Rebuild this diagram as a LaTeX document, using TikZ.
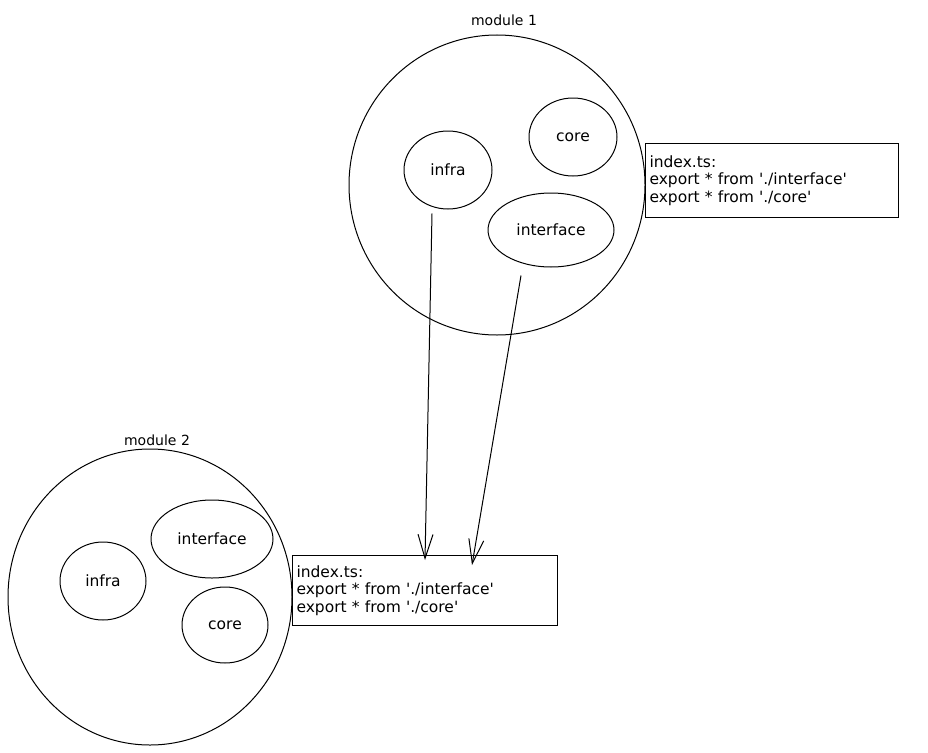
\documentclass[tikz,border=0pt]{standalone}
\usepackage{fontspec}
\setmainfont{DejaVu Sans}[Ligatures=TeXOff]
\usetikzlibrary{shapes.geometric,arrows.meta}
\tikzset{
  x=1pt,y=-1pt,
  every node/.style={font=\fontsize{14}{17.5}\selectfont},
  module/.style={draw,ellipse,line width=1pt,inner sep=0pt},
  part/.style={draw,ellipse,line width=1pt,inner sep=0pt,font=\fontsize{15.5}{17.5}\selectfont},
  codebox/.style={draw,line width=1pt,anchor=north west,align=left,inner sep=4pt,font=\fontsize{15.5}{17.5}\selectfont},
  dep/.style={draw,line width=1pt,-{Straight Barb[length=24pt,width=15pt,line width=1pt]}}
}
\begin{document}
\begin{tikzpicture}
\useasboundingbox (0,0) rectangle (928,752);
% module 1
\node[module,minimum width=296,minimum height=300] (m1) at (497,185) {};
\node (m1label) at (504,20) {module 1};
\node[part,minimum width=88,minimum height=78] (core1) at (573,137) {core};
\node[part,minimum width=88,minimum height=78] (infra1) at (448,170) {infra};
\node[part,minimum width=126,minimum height=74] (iface1) at (551,230) {interface};
\node[codebox,minimum width=253,minimum height=74,text width=245] (box1) at (645,143)
  {index.ts:\\export * from './interface'\\export * from './core'};
% module 2
\node[module,minimum width=284,minimum height=296] (m2) at (150,597) {};
\node (m2label) at (157,440) {module 2};
\node[part,minimum width=122,minimum height=78] (iface2) at (212,539) {interface};
\node[part,minimum width=86,minimum height=78] (infra2) at (103,581) {infra};
\node[part,minimum width=86,minimum height=76] (core2) at (225,625) {core};
\node[codebox,minimum width=265,minimum height=70,text width=257] (box2) at (292,555)
  {index.ts:\\export * from './interface'\\export * from './core'};
% arrows
\draw[dep] ([xshift=-16,yshift=-4]infra1.south) -- ([yshift=-5]box2.north);
\draw[dep] ([xshift=-30,yshift=-8]iface1.south) -- ([xshift=47,yshift=-10]box2.north);
\end{tikzpicture}
\end{document}
